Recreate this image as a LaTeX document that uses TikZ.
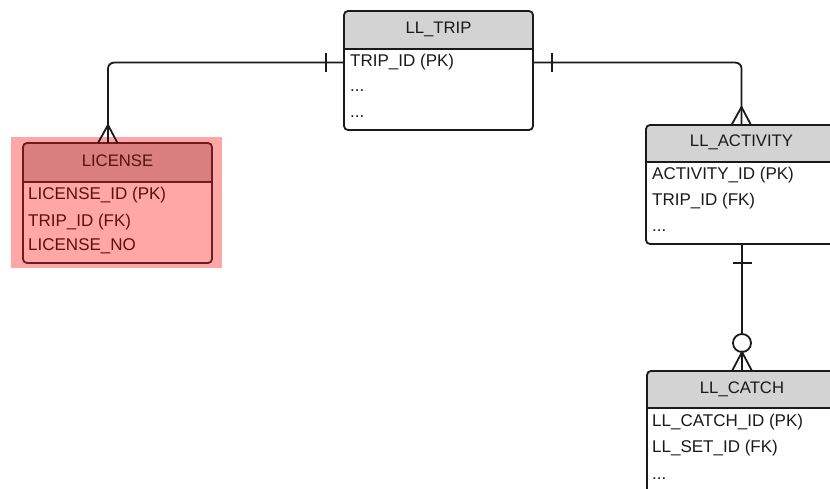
\documentclass[tikz,border=0pt]{standalone}
\usepackage{fontspec}
\setmainfont{Liberation Sans}
\definecolor{hlbg}{HTML}{FFA6A6}
\definecolor{redhdr}{HTML}{D97F7F}
\definecolor{redline}{HTML}{6E1C1C}
\definecolor{redtxt}{HTML}{5C1010}
\definecolor{grayhdr}{HTML}{D3D3D3}
\definecolor{ink}{HTML}{1A1A1A}
\tikzset{
  ebox/.style={rectangle, inner sep=0pt, outer sep=0pt, anchor=north west},
  outline/.style={line width=1.8pt, rounded corners=4pt},
  rowtxt/.style={anchor=base west, inner sep=0pt, font=\fontsize{17}{20}\selectfont},
  titletxt/.style={anchor=base, inner sep=0pt, font=\fontsize{16.7}{20}\selectfont},
  conn/.style={draw=ink, line width=1.8pt, rounded corners=6pt},
  endmark/.style={draw=ink, line width=1.8pt},
}
\begin{document}
\begin{tikzpicture}[x=1pt,y=-1pt]
\useasboundingbox (0,0) rectangle (830,489);
% highlight behind LICENSE
\fill[hlbg] (11,137) rectangle (222,268);

% ---------- LL_TRIP ----------
\node[ebox, fill=white, minimum width=189pt, minimum height=119pt] (trip) at (344,11) {};
\begin{scope}
  \clip[rounded corners=4pt] (trip.north west) rectangle (trip.south east);
  \fill[grayhdr] (trip.north west) rectangle ([yshift=-38pt]trip.north east);
\end{scope}
\draw[ink, line width=1.8pt] ([yshift=-38pt]trip.north west) -- ([yshift=-38pt]trip.north east);
\draw[ink, outline] (trip.north west) rectangle (trip.south east);
\node[titletxt, text=ink] (triptitle) at (438.5,34) {LL\_TRIP};
\node[rowtxt, text=ink] (tripid) at (350,67) {TRIP\_ID (PK)};
\node[rowtxt, text=ink] (tripr2) at (350,92) {...};
\node[rowtxt, text=ink] (tripr3) at (350,118) {...};

% ---------- LICENSE ----------
\node[ebox, fill=hlbg, minimum width=189pt, minimum height=120pt] (license) at (23,143) {};
\begin{scope}
  \clip[rounded corners=4pt] (license.north west) rectangle (license.south east);
  \fill[redhdr] (license.north west) rectangle ([yshift=-39pt]license.north east);
\end{scope}
\draw[redline, line width=1.8pt] ([yshift=-39pt]license.north west) -- ([yshift=-39pt]license.north east);
\draw[redline, outline] (license.north west) rectangle (license.south east);
\node[titletxt, text=redtxt] (lictitle) at (117.5,167) {LICENSE};
\node[rowtxt, text=redtxt] (licid) at (28,200) {LICENSE\_ID (PK)};
\node[rowtxt, text=redtxt] (lictrip) at (28,226) {TRIP\_ID (FK)};
\node[rowtxt, text=redtxt] (licno) at (28,251) {LICENSE\_NO};

% ---------- LL_ACTIVITY ----------
\node[ebox, fill=white, minimum width=191pt, minimum height=119pt] (activity) at (646,125) {};
\begin{scope}
  \clip[rounded corners=4pt] (activity.north west) rectangle (activity.south east);
  \fill[grayhdr] (activity.north west) rectangle ([yshift=-37pt]activity.north east);
\end{scope}
\draw[ink, line width=1.8pt] ([yshift=-37pt]activity.north west) -- ([yshift=-37pt]activity.north east);
\draw[ink, outline] (activity.north west) rectangle (activity.south east);
\node[titletxt, text=ink] (acttitle) at (741.5,147) {LL\_ACTIVITY};
\node[rowtxt, text=ink] (actid) at (652,180) {ACTIVITY\_ID (PK)};
\node[rowtxt, text=ink] (acttrip) at (652,206) {TRIP\_ID (FK)};
\node[rowtxt, text=ink] (actr3) at (652,232) {...};

% ---------- LL_CATCH ----------
\node[ebox, fill=white, minimum width=190pt, minimum height=130pt] (catch) at (647,371) {};
\begin{scope}
  \clip[rounded corners=4pt] (catch.north west) rectangle (catch.south east);
  \fill[grayhdr] (catch.north west) rectangle ([yshift=-37pt]catch.north east);
\end{scope}
\draw[ink, line width=1.8pt] ([yshift=-37pt]catch.north west) -- ([yshift=-37pt]catch.north east);
\draw[ink, outline] (catch.north west) rectangle (catch.south east);
\node[titletxt, text=ink] (catchtitle) at (742,393) {LL\_CATCH};
\node[rowtxt, text=ink] (catchid) at (652,426) {LL\_CATCH\_ID (PK)};
\node[rowtxt, text=ink] (catchset) at (652,452) {LL\_SET\_ID (FK)};
\node[rowtxt, text=ink] (catchr3) at (652,479) {...};

% ---------- connectors ----------
% LL_TRIP -- LICENSE
\draw[conn] (trip.west |- tripid) -| ([xshift=-9.5pt]license.north);
\draw[endmark] ([xshift=-18pt]trip.west |- tripid) ++(0,-9.5) -- ++(0,19);
\draw[endmark] ([xshift=-19.5pt]license.north) -- ([xshift=-9.5pt,yshift=18pt]license.north) -- ([xshift=0pt]license.north);

% LL_TRIP -- LL_ACTIVITY
\draw[conn] (trip.east |- tripid) -| (activity.north);
\draw[endmark] ([xshift=19pt]trip.east |- tripid) ++(0,-9.5) -- ++(0,19);
\draw[endmark] ([xshift=-10pt]activity.north) -- ([yshift=18pt]activity.north) -- ([xshift=9.5pt]activity.north);

% LL_ACTIVITY -- LL_CATCH
\draw[conn] (activity.south -| catch.north) -- (catch.north);
\draw[endmark] ([yshift=-19pt]activity.south -| catch.north) ++(-9.5,0) -- ++(19,0);
\draw[endmark, fill=white] ([yshift=28pt]catch.north) circle[radius=9pt];
\draw[endmark] ([xshift=-10pt]catch.north) -- ([yshift=19pt]catch.north) -- ([xshift=10pt]catch.north);
\end{tikzpicture}
\end{document}
